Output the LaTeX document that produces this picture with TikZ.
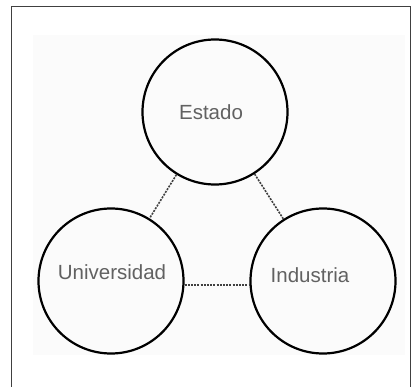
\documentclass[tikz,border=0pt]{standalone}
\usepackage{fontspec}
\setmainfont{Liberation Sans}
\begin{document}
\begin{tikzpicture}[x=1pt,y=-1pt,
  actor/.style={circle,draw=black,line width=2.2pt,minimum size=145pt,inner sep=0pt},
  lbl/.style={text=black!62,font=\fontsize{20.5}{22}\selectfont},
  link/.style={draw=black!75,line width=1.6pt,dash pattern=on 2pt off 1.2pt},
  frame/.style={draw=black!75,line width=0.9pt}]
\useasboundingbox (0,0) rectangle (417,387);
\fill[black!1.5] (33,35) rectangle (405,355);
\draw[frame] (11,387) -- (11,6) -- (410,6) -- (410,387);
\node[actor] (est) at (215,112) {};
\node[actor] (uni) at (111,281) {};
\node[actor] (ind) at (323,281) {};
\node[lbl] (test) at (211,112) {Estado};
\node[lbl] (tuni) at (112,272) {Universidad};
\node[lbl] (tind) at (310,275) {Industria};
\draw[link] (est) -- (uni);
\draw[link] (est) -- (ind);
\draw[link] ([yshift=-4pt]uni.east) -- ([yshift=-4pt]ind.west);
\end{tikzpicture}
\end{document}
